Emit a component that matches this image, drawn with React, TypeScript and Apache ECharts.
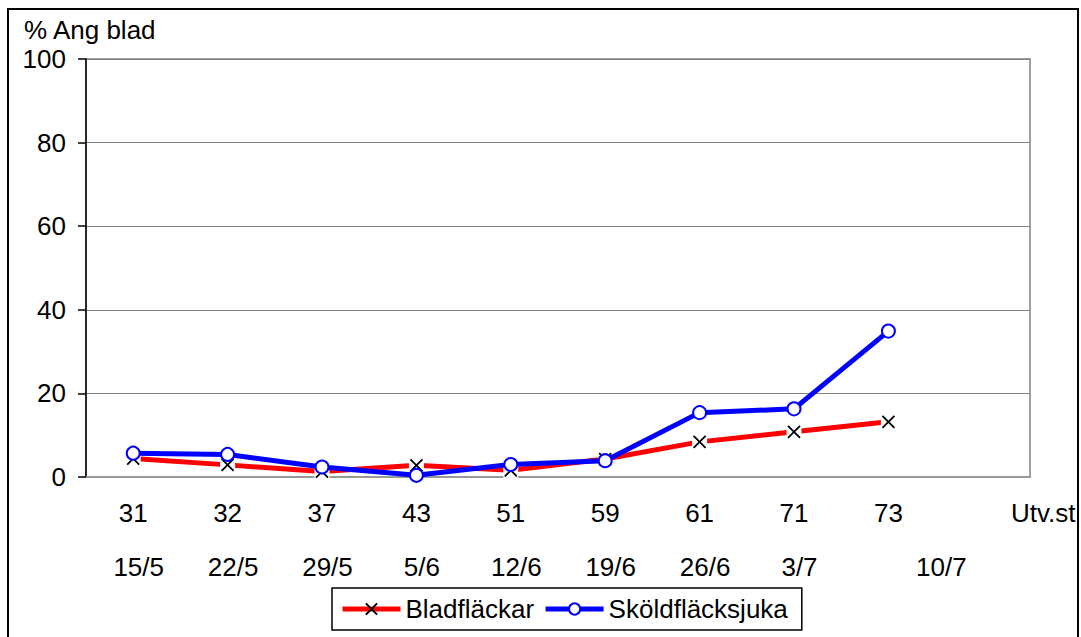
import React, { useEffect, useRef } from "react";
import * as echarts from "echarts";

const stages = ["31", "32", "37", "43", "51", "59", "61", "71", "73", ""];
const dates = ["15/5", "22/5", "29/5", "5/6", "12/6", "19/6", "26/6", "3/7", "10/7", ""];
const bladflackar = [4.4, 2.9, 1.3, 2.8, 1.6, 4.3, 8.4, 10.8, 13.2];
const skoldflacksjuka = [5.7, 5.4, 2.4, 0.4, 3.0, 3.9, 15.4, 16.3, 34.9];
const yMin = 0;
const yMax = 100;
const yStep = 20;
const yTitle = "% Ang blad";
const xTitle = "Utv.st";
const seriesNames = ["Bladfläckar", "Sköldfläcksjuka"];

const FONT = "'Liberation Sans', Arial, sans-serif";
const FS = 26;
const X_SYMBOL = "path://M0,0L10,10M10,0L0,10";

export default function App() {
  const ref = useRef<HTMLDivElement>(null);
  useEffect(() => {
    document.body.style.margin = "0";
    const chart = echarts.init(ref.current!, null, { renderer: "svg" });
    chart.setOption({
      animation: false,
      backgroundColor: "#fff",
      textStyle: { fontFamily: FONT },
      grid: {
        left: 86,
        top: 59,
        width: 944,
        height: 418,
        show: true,
        borderColor: "#a0a0a0",
        borderWidth: 2,
      },
      legend: {
        data: [
          { name: seriesNames[0] },
          { name: seriesNames[1] },
        ],
        left: 332,
        top: 588,
        padding: [8, 14, 8, 8],
        itemGap: 9,
        itemWidth: 58,
        itemHeight: 14,
        lineStyle: { width: 5 },
        borderColor: "#000",
        borderWidth: 1.5,
        textStyle: { fontSize: FS, color: "#000", fontFamily: FONT },
      },
      xAxis: [
        {
          type: "category",
          data: stages,
          boundaryGap: true,
          axisLine: { show: true, lineStyle: { color: "#999", width: 2 } },
          axisTick: { show: false },
          axisLabel: {
            color: "#000",
            fontSize: FS,
            fontFamily: FONT,
            interval: 0,
            margin: 36,
            verticalAlign: "middle",
          },
          splitLine: { show: false },
        },
        {
          type: "category",
          data: dates,
          boundaryGap: true,
          position: "bottom",
          axisLine: { show: false },
          axisTick: { show: false },
          axisLabel: {
            interval: 0,
            margin: 90,
            verticalAlign: "middle",
            formatter: (v: string, i: number) =>
              v === "" ? "" : i === 8 ? "{b|" + v + "}" : "{a|" + v + "}",
            rich: {
              a: { fontSize: FS, color: "#000", fontFamily: FONT, padding: [0, 0, 0, 11] },
              b: { fontSize: FS, color: "#000", fontFamily: FONT, padding: [0, 0, 0, 106] },
            },
          },
          splitLine: { show: false },
        },
      ],
      yAxis: {
        type: "value",
        min: yMin,
        max: yMax,
        interval: yStep,
        axisLine: { show: true, lineStyle: { color: "#000", width: 1.5 } },
        axisTick: { show: true, length: 8, lineStyle: { color: "#000", width: 1.5 } },
        axisLabel: { color: "#000", fontSize: FS, fontFamily: FONT, margin: 20 },
        splitLine: { show: true, lineStyle: { color: "#808080", width: 1.2 } },
      },
      graphic: [
        {
          type: "rect",
          silent: true,
          z: 100,
          shape: { x: 8, y: 9, width: 1070, height: 700 },
          style: { fill: "none", stroke: "#000", lineWidth: 2 },
        },
        {
          type: "text",
          x: 24,
          y: 30,
          style: {
            text: yTitle,
            fill: "#000",
            font: `${FS}px ${FONT}`,
            verticalAlign: "middle",
            align: "left",
          },
        },
        {
          type: "text",
          x: 1011,
          y: 513,
          style: {
            text: xTitle,
            fill: "#000",
            font: `${FS}px ${FONT}`,
            verticalAlign: "middle",
            align: "left",
          },
        },
      ],
      series: [
        {
          name: seriesNames[0],
          type: "line",
          data: bladflackar,
          z: 2,
          symbol: X_SYMBOL,
          symbolSize: 12,
          showAllSymbol: true,
          lineStyle: { color: "#ff0000", width: 5 },
          itemStyle: { color: "#000", borderColor: "#000", borderWidth: 1.8 },
        },
        {
          name: "mask",
          type: "scatter",
          data: bladflackar,
          z: 3,
          silent: true,
          symbol: "rect",
          symbolSize: 15,
          itemStyle: { color: "#ffffff", opacity: 1, borderWidth: 0 },
        },
        {
          name: "marks",
          type: "scatter",
          data: bladflackar,
          z: 4,
          silent: true,
          symbol: X_SYMBOL,
          symbolSize: 12,
          itemStyle: { color: "#000", borderColor: "#000", borderWidth: 1.8, opacity: 1 },
        },
        {
          name: seriesNames[1],
          type: "line",
          data: skoldflacksjuka,
          z: 5,
          symbol: "circle",
          symbolSize: 13,
          showAllSymbol: true,
          lineStyle: { color: "#0000ff", width: 5 },
          itemStyle: { color: "#fff", borderColor: "#0000ff", borderWidth: 2 },
        },
      ],
    });
    return () => chart.dispose();
  }, []);
  return <div ref={ref} style={{ width: 1081, height: 637 }} />;
}
